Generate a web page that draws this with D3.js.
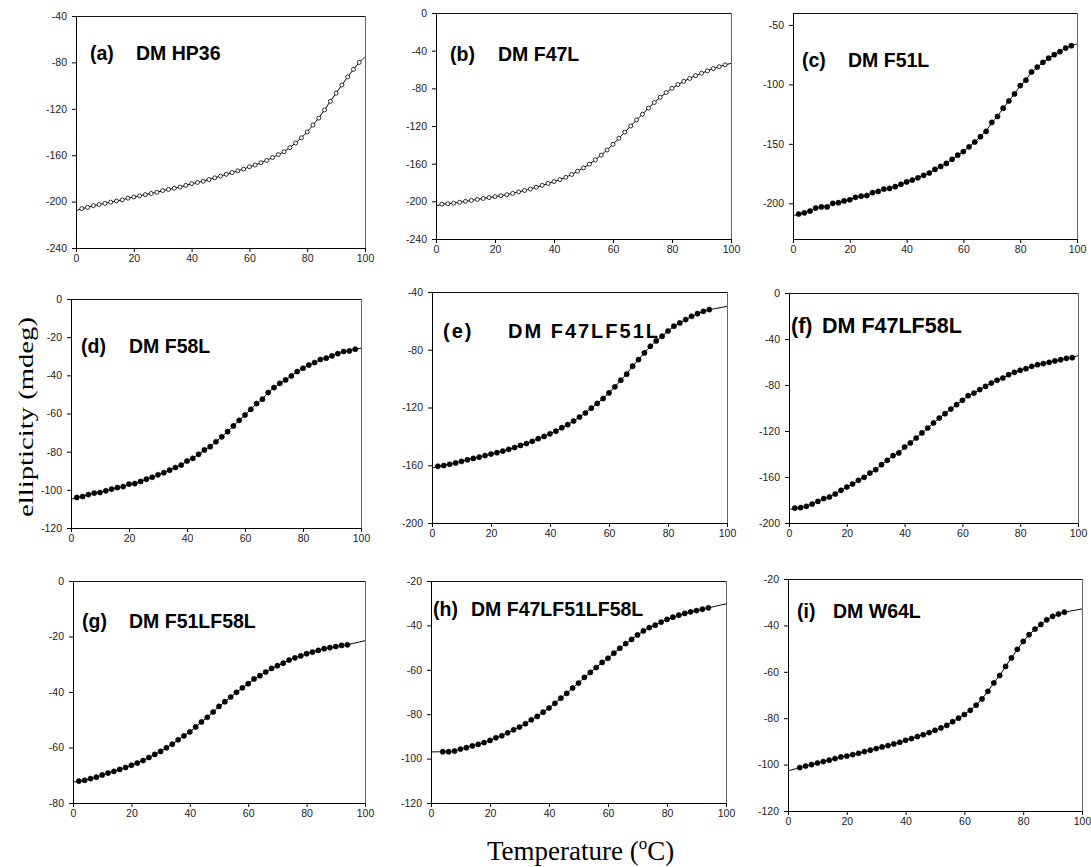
<!DOCTYPE html>
<html>
<head>
<meta charset="utf-8">
<script src="https://cdn.jsdelivr.net/npm/d3@7"></script>
<style>
  body { margin: 0; background: #fff; }
  svg { display: block; }
</style>
</head>
<body>
<svg id="fig" width="1091" height="867"></svg>
<script>
"use strict";

// temperatures (oC) of the measured points
var temp2to98 = [2,4,6,8,10,12,14,16,18,20,22,24,26,28,30,32,34,36,38,40,42,44,46,48,50,
                 52,54,56,58,60,62,64,66,68,70,72,74,76,78,80,82,84,86,88,90,92,94,96,98];
var temp2to94 = [2,4,6,8,10,12,14,16,18,20,22,24,26,28,30,32,34,36,38,40,42,44,46,48,50,
                 52,54,56,58,60,62,64,66,68,70,72,74,76,78,80,82,84,86,88,90,92,94];
var temp4to94 = [4,6,8,10,12,14,16,18,20,22,24,26,28,30,32,34,36,38,40,42,44,46,48,50,
                 52,54,56,58,60,62,64,66,68,70,72,74,76,78,80,82,84,86,88,90,92,94];

var panelCodes = ["(a)", "(b)", "(c)", "(d)", "(e)", "(f)", "(g)", "(h)", "(i)"];
var panelNames = ["DM HP36", "DM F47L", "DM F51L", "DM F58L", "DM F47LF51L",
                  "DM F47LF58L", "DM F51LF58L", "DM F47LF51LF58L", "DM W64L"];

// ellipticity (mdeg)
var ellipA = [-206,-205,-203.5,-202.5,-201.5,-200.5,-199.5,-198.5,-197,-196,
              -195,-194,-193,-192,-190.5,-189.5,-188.5,-187.5,-186,-184.5,
              -183.5,-182.5,-181,-179.5,-178,-176.5,-175,-173.5,-172,-170,
              -168.5,-166.5,-164.5,-162,-159.5,-157,-153.5,-149.5,-145,-140,
              -134,-128,-121,-113.5,-106.5,-99.5,-92.5,-86,-80];
var ellipB = [-203,-202.5,-202,-201,-200,-199,-198,-197,-196,-195,
              -194,-193,-191.5,-190,-188.5,-187,-185,-183,-181,-179,
              -177,-174.5,-171.5,-168,-164.5,-160.5,-156,-151,-145.5,-139.5,
              -133,-126.5,-120,-113.5,-107.5,-101,-95,-89.5,-84.5,-80,
              -76,-72.5,-69.5,-66.5,-64,-61.5,-59,-57,-55];
var ellipC = [-209,-208,-206.5,-204,-203,-203,-200,-199.5,-198,-197,
              -195,-194,-193.5,-191,-190,-188,-187.5,-186,-184,-182,
              -180.5,-178.5,-176.5,-174.5,-171.5,-169,-166.5,-163,-159.5,-156.5,
              -152.5,-148.5,-144,-139.5,-132,-127,-120,-114,-108,-101,
              -96.5,-89.5,-85.5,-81.5,-78,-75,-72.5,-69.5,-67.5];
var ellipD = [-104,-103.5,-102.5,-101.7,-101.4,-100.5,-99.6,-98.8,-98.3,-97,
              -96.7,-95.6,-94.4,-93.4,-92.1,-91,-89.7,-88.3,-87,-84.9,
              -83.5,-81.4,-79.1,-77.4,-74.8,-72.2,-69.5,-66.5,-63.6,-60.8,
              -57.8,-54.8,-52.5,-49,-46.4,-44.2,-42.4,-40.3,-38,-36.3,
              -34.6,-33.3,-31.7,-31,-29.8,-28.6,-27.5,-27.2,-26.3];
var ellipE = [-160.7,-160.2,-159.3,-158.4,-157.3,-156.2,-155.3,-154.4,-153.3,-152.2,
              -151.3,-150.2,-149,-147.7,-146.3,-145,-143.4,-141.6,-140,-138.2,
              -136.4,-134,-131.9,-129.4,-126.6,-123.8,-120.5,-117.2,-113.8,-109.9,
              -105.7,-101.1,-96.9,-91.4,-86.8,-82.2,-77.6,-73.9,-70.6,-67,
              -63.7,-61.4,-59.1,-56.8,-55,-53.4,-52.2];
var ellipF = [-187,-186.7,-185.5,-183.5,-181.2,-178.8,-177.4,-174.8,-171.6,-168.7,
              -166.1,-162.9,-160.3,-156.5,-153.6,-149.3,-145.5,-141.4,-139.1,-133.9,
              -130.4,-126.1,-121.7,-117.4,-113,-108.7,-104.9,-100.9,-97.1,-93.3,
              -89.3,-87,-84,-81.2,-78.3,-75.9,-73.9,-71,-69,-67.2,
              -65.8,-63.8,-62.3,-61.4,-60.3,-59.1,-58,-56.8,-56.2];
var ellipG = [-72.1,-71.8,-71.2,-70.7,-69.9,-69.2,-68.6,-67.9,-67.2,-66.4,
              -65.6,-64.7,-63.6,-62.5,-61.4,-60.1,-58.8,-57.2,-55.8,-54.4,
              -52.6,-50.8,-49.1,-47.2,-45.2,-43.5,-41.8,-40.1,-38.5,-37,
              -35.3,-34.1,-32.8,-31.5,-30.5,-29.6,-28.5,-27.7,-27,-26.2,
              -25.6,-25,-24.4,-24,-23.6,-23.2,-23];
var ellipH = [-96.9,-96.9,-96.6,-95.7,-95.1,-94.3,-93.6,-92.8,-91.8,-90.6,
              -89.7,-88.4,-87,-85.8,-84.3,-82.5,-81,-79.1,-77.2,-75.1,
              -72.8,-70.6,-68.2,-66,-63.4,-61.2,-59,-56.7,-54.8,-52.5,
              -50.3,-48.2,-46.3,-44.3,-42.5,-41,-39.9,-38.5,-37.3,-36.3,
              -35.4,-34.6,-33.9,-33.3,-32.7,-32.1];
var ellipI = [-101.3,-100.6,-100,-99.3,-98.7,-98.1,-97.4,-96.7,-96.3,-95.7,
              -95.1,-94.4,-93.8,-93.1,-92.4,-91.8,-91.1,-90.4,-89.5,-88.8,
              -87.9,-87.1,-86.2,-85.2,-84.2,-83.1,-81.5,-80,-78.4,-76.6,
              -74.4,-71.7,-68.4,-64.8,-61.6,-57.7,-54,-50.3,-46.9,-44,
              -41.6,-39.6,-37.6,-36.1,-35.1,-34.3];

// fitted curve values at 0 and 100 oC
var fitAt0   = [-208, -205, -210.5, -105, -162, -188.4, -72.5, -97, -102.7];
var fitAt100 = [-75, -53.5, -66, -25.8, -50, -54.5, -21.5, -30.3, -32.9];

var yDomains = [[-240,-40], [-240,0], [-230,-40], [-120,0], [-200,-40],
                [-200,0], [-80,0], [-120,-20], [-120,-20]];
var yTicks = [[-240,-200,-160,-120,-80,-40],
              [-240,-200,-160,-120,-80,-40,0],
              [-200,-150,-100,-50],
              [-120,-100,-80,-60,-40,-20,0],
              [-200,-160,-120,-80,-40],
              [-200,-160,-120,-80,-40,0],
              [-80,-60,-40,-20,0],
              [-120,-100,-80,-60,-40,-20],
              [-120,-100,-80,-60,-40,-20]];
var xTicks = [0, 20, 40, 60, 80, 100];

var panelTemps = [temp2to98, temp2to98, temp2to98, temp2to98, temp2to94,
                  temp2to98, temp2to94, temp4to94, temp4to94];
var panelEllip = [ellipA, ellipB, ellipC, ellipD, ellipE, ellipF, ellipG, ellipH, ellipI];
var openMarks  = [true, true, false, false, false, false, false, false, false];

// layout: plot box [left, right, top, bottom]
var frames = [
  [76, 365, 16, 248], [436, 731, 13, 239], [793, 1077, 13, 239],
  [71, 361, 299, 528], [432, 727, 292, 523], [789, 1078, 293, 523],
  [73, 365, 581, 803], [431, 726, 581, 803], [788, 1082, 579, 811]
];
// title: [x of code, x of name, baseline, font size, letter spacing]
var titlePos = [
  [90, 136, 60, 19.5, 0], [450, 498, 61, 19.5, 0], [802, 848, 67, 19.5, 0],
  [81, 129, 353, 19.5, 0], [443, 508, 338, 20, 2], [791, 822, 333, 21.5, 0],
  [82, 129, 628, 19.5, 0], [433, 471, 616, 19.5, 0], [797, 833, 618, 19.5, 0]
];

var sans = "'Liberation Sans', Arial, sans-serif";
var serif = "'Liberation Serif', 'Times New Roman', serif";
var plain = function(d) { return String(d); };   // keep the ascii hyphen for negatives

var svg = d3.select("#fig");

panelNames.forEach(function(name, i) {
  var f = frames[i];
  var x = d3.scaleLinear().domain([0, 100]).range([f[0], f[1]]);
  var y = d3.scaleLinear().domain(yDomains[i]).range([f[3], f[2]]);
  var g = svg.append("g");

  // box top and right
  g.append("line")
    .attr("x1", f[0]).attr("x2", f[1] + 0.5)
    .attr("y1", f[2] + 0.5).attr("y2", f[2] + 0.5)
    .style("stroke", "#111");
  g.append("line")
    .attr("x1", f[1] + 0.5).attr("x2", f[1] + 0.5)
    .attr("y1", f[2]).attr("y2", f[3])
    .style("stroke", "#666");

  var xa = g.append("g")
    .attr("transform", "translate(0," + f[3] + ")")
    .call(d3.axisBottom(x).tickValues(xTicks).tickFormat(plain)
      .tickSize(4).tickSizeOuter(0).tickPadding(3));
  var ya = g.append("g")
    .attr("transform", "translate(" + f[0] + ",0)")
    .call(d3.axisLeft(y).tickValues(yTicks[i]).tickFormat(plain)
      .tickSize(4).tickSizeOuter(0).tickPadding(5));
  [xa, ya].forEach(function(a) {
    a.attr("font-family", sans).attr("font-size", 10.5);
    a.selectAll("text").style("fill", "#222");
  });

  var pts = panelTemps[i].map(function(t, k) { return [t, panelEllip[i][k]]; });
  var fit = [[0, fitAt0[i]]].concat(pts, [[100, fitAt100[i]]]);

  g.append("path")
    .datum(fit)
    .attr("d", d3.line().curve(d3.curveBasis)
      .x(function(d) { return x(d[0]); })
      .y(function(d) { return y(d[1]); }))
    .style("fill", "none")
    .style("stroke", "#000")
    .style("stroke-width", 1);

  g.selectAll("circle")
    .data(pts)
    .enter().append("circle")
    .attr("cx", function(d) { return x(d[0]); })
    .attr("cy", function(d) { return y(d[1]); })
    .attr("r", openMarks[i] ? 2 : 2.6)
    .style("fill", openMarks[i] ? "#fff" : "#000")
    .style("stroke", "#000")
    .style("stroke-width", openMarks[i] ? 0.8 : 0.5);

  var tp = titlePos[i];
  [[tp[0], panelCodes[i]], [tp[1], name]].forEach(function(t) {
    g.append("text")
      .attr("x", t[0]).attr("y", tp[2])
      .style("font-family", sans)
      .style("font-weight", "bold")
      .style("font-size", tp[3] + "px")
      .style("letter-spacing", tp[4] + "px")
      .text(t[1]);
  });
});

// axis titles
svg.append("text")
  .attr("transform", "translate(33,417) rotate(-90)")
  .attr("text-anchor", "middle")
  .attr("textLength", 200)
  .attr("lengthAdjust", "spacingAndGlyphs")
  .style("font-family", serif)
  .style("font-size", "21px")
  .text("ellipticity (mdeg)");

var xt = svg.append("text")
  .attr("x", 487).attr("y", 860)
  .style("font-family", serif)
  .style("font-size", "27px");
xt.append("tspan").text("Temperature (");
xt.append("tspan").attr("dy", -11).style("font-size", "17px").text("o");
xt.append("tspan").attr("dy", 11).text("C)");
</script>
</body>
</html>
